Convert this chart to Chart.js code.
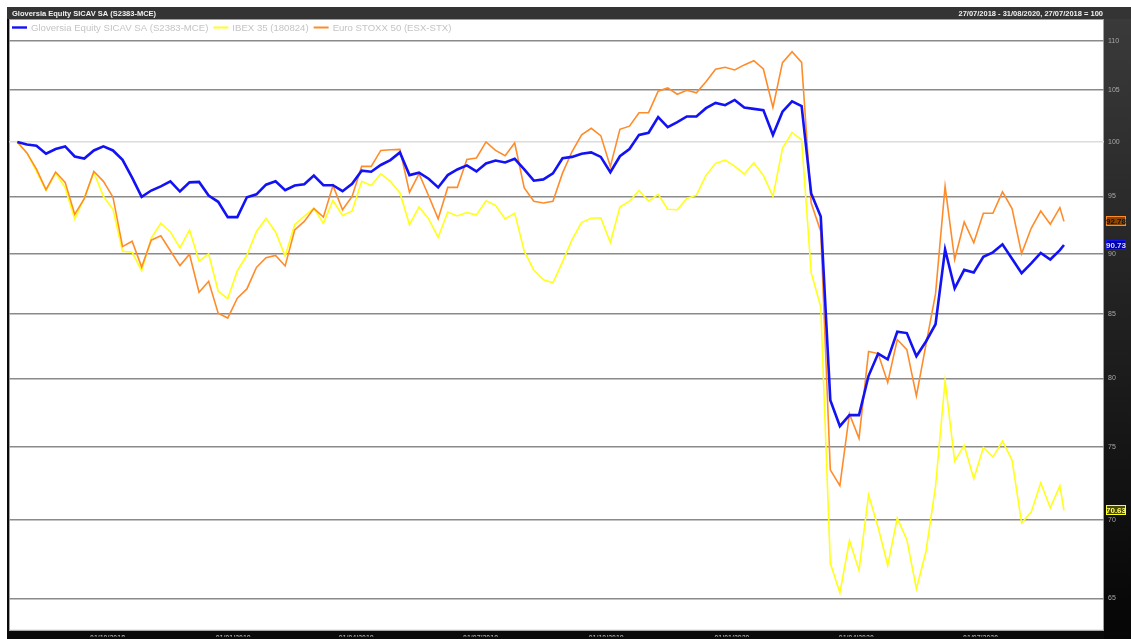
<!DOCTYPE html>
<html lang="es">
<head>
<meta charset="UTF-8">
<title>Gloversia Equity SICAV SA</title>
<style>
  html, body { margin: 0; padding: 0; background: #fff; }
</style>
</head>
<body>
<canvas id="myChart" width="1131" height="639"></canvas>

<script src="https://cdn.jsdelivr.net/npm/chart.js"></script>
<script>
// weekly closes from 27/07/2018 (Fridays) plus the final 31/08/2020 close, base 100
const startDate = '2018-07-27';
const endDate = '2020-08-31';
const weeks = 110;

const names = ['Gloversia Equity SICAV SA (S2383-MCE)', 'IBEX 35 (180824)', 'Euro STOXX 50 (ESX-STX)'];
const colors = ['#1212f5', '#ffff1a', '#ff8c2a'];

const gloversia = [
  100, 99.76, 99.64, 98.9, 99.33, 99.58, 98.64, 98.45, 99.2, 99.58,
  99.2, 98.33, 96.69, 94.96, 95.52, 95.9, 96.35, 95.43, 96.26, 96.3,
  95.07, 94.51, 93.15, 93.15, 94.92, 95.18, 96.05, 96.35, 95.55, 95.97,
  96.09, 96.87, 96.0, 96.0, 95.46, 96.13, 97.33, 97.23, 97.85, 98.3,
  99.02, 96.92, 97.14, 96.59, 95.8, 96.92, 97.44, 97.81, 97.26, 97.99,
  98.26, 98.08, 98.42, 97.44, 96.41, 96.53, 97.08, 98.47, 98.6, 98.9,
  99.02, 98.6, 97.19, 98.66, 99.33, 100.67, 100.87, 102.37, 101.41, 101.89,
  102.43, 102.43, 103.24, 103.75, 103.53, 104.04, 103.3, 103.17, 103.05, 100.65,
  102.9, 103.9, 103.45, 95.25, 93.2, 78.38, 76.48, 77.28, 77.28, 80.2,
  81.9, 81.45, 83.6, 83.5, 81.7, 82.84, 84.2, 90.35, 87.1, 88.63,
  88.42, 89.73, 90.11, 90.79, 89.57, 88.36, 89.18, 90.06, 89.5, 90.3,
  90.73
];

const ibex = [
  100, 98.97, 97.26, 95.52, 97.1, 95.78, 92.99, 94.86, 97.17, 95.0,
  93.84, 90.2, 90.11, 88.56, 91.33, 92.62, 91.86, 90.48, 92.03, 89.37,
  89.98, 86.86, 86.26, 88.56, 89.86, 91.9, 93.04, 91.86, 89.8, 92.48,
  93.25, 93.92, 92.62, 94.62, 93.3, 93.69, 96.35, 95.97, 97.04, 96.35,
  95.3, 92.5, 94.05, 93.0, 91.4, 93.6, 93.25, 93.55, 93.35, 94.6,
  94.2, 93.0, 93.5, 90.2, 88.6, 87.8, 87.55, 89.3, 91.2, 92.7,
  93.05, 93.1, 90.95, 94.05, 94.56, 95.52, 94.56, 95.18, 93.85, 93.8,
  94.8, 95.1, 96.9, 98.0, 98.3, 97.75, 97.0, 98.05, 96.9, 95.0,
  99.4, 100.9, 100.2, 88.4, 85.6, 67.2, 65.36, 68.65, 66.75, 71.68,
  69.5, 67.07, 70.12, 68.71, 65.6, 67.95, 72.25, 79.83, 74.0, 75.1,
  72.78, 74.96, 74.28, 75.4, 74.07, 69.8, 70.52, 72.5, 70.8, 72.3,
  70.63
];

const stoxx = [
  100, 98.97, 97.47, 95.6, 97.2, 96.26, 93.4, 94.8, 97.26, 96.35,
  94.92, 90.6, 91.06, 88.86, 91.15, 91.53, 90.24, 88.99, 89.94, 86.78,
  87.68, 85.08, 84.69, 86.29, 87.05, 88.83, 89.65, 89.84, 88.96, 92.03,
  92.78, 93.92, 93.15, 95.97, 93.8, 94.99, 97.72, 97.72, 99.2, 99.26,
  99.3, 95.35, 97.05, 95.05, 93.0, 95.8, 95.8, 98.35, 98.5, 100.0,
  99.2, 98.7, 99.9, 95.75, 94.56, 94.4, 94.56, 97.1, 99.1, 100.67,
  101.3, 100.6, 97.7, 101.2, 101.5, 102.8, 102.8, 104.9, 105.23, 104.6,
  105.0, 104.75, 105.84, 107.1, 107.3, 107.03, 107.54, 107.97, 107.13, 103.3,
  107.77, 108.88, 107.8, 94.4, 91.9, 73.39, 72.3, 77.36, 75.6, 82.06,
  81.9, 79.7, 82.99, 82.2, 78.7, 82.6, 86.64, 95.9, 89.5, 92.73,
  90.93, 93.49, 93.49, 95.4, 93.9, 90.0, 92.18, 93.69, 92.53, 93.99,
  92.78
];

const yTicks = [65, 70, 75, 80, 85, 90, 95, 100, 105, 110];
const xTickDates = ['2018-10-01', '2019-01-01', '2019-04-01', '2019-07-01',
                    '2019-10-01', '2020-01-01', '2020-04-01', '2020-07-01'];

const DAY = 86400000;
const t0 = Date.parse(startDate);
const dayOf = d => Math.round((Date.parse(d) - t0) / DAY);

// x positions in days since the start
const days = [];
for (let i = 0; i < weeks; i++) days.push(i * 7);
days.push(dayOf(endDate));

const fmt = day => {
  const d = new Date(t0 + day * DAY);
  const dd = String(d.getUTCDate()).padStart(2, '0');
  const mm = String(d.getUTCMonth() + 1).padStart(2, '0');
  return dd + '/' + mm + '/' + d.getUTCFullYear();
};

const toPoints = arr => arr.map((v, i) => ({ x: days[i], y: v }));

const font = '"Liberation Sans", Arial, sans-serif';

const framePlugin = {
  id: 'frame',
  beforeDraw(chart) {
    const { ctx, chartArea: a, width, height } = chart;
    ctx.save();
    ctx.fillStyle = '#fff';
    ctx.fillRect(0, 0, width, height);
    ctx.fillStyle = '#0a0a0a';
    ctx.fillRect(7, 7, width - 7, height - 7);
    const g = ctx.createLinearGradient(0, 19, 0, height);
    g.addColorStop(0, '#3a3a3a');
    g.addColorStop(1, '#050505');
    ctx.fillStyle = g;
    ctx.fillRect(a.right, 19, width - a.right, height - 19);
    ctx.fillStyle = '#343434';
    ctx.fillRect(7, 7, width - 7, 12);
    ctx.fillStyle = '#fff';
    ctx.fillRect(a.left, a.top, a.right - a.left, a.bottom - a.top);
    ctx.strokeStyle = '#a0a0a0';
    ctx.lineWidth = 1;
    ctx.strokeRect(a.left + 0.5, a.top + 0.5, a.right - a.left - 1, a.bottom - a.top - 1);

    ctx.font = 'bold 7.5px ' + font;
    ctx.fillStyle = '#f2f2f2';
    ctx.textBaseline = 'middle';
    ctx.textAlign = 'left';
    ctx.fillText(names[0], 12, 13.5);
    ctx.textAlign = 'right';
    ctx.fillText(fmt(0) + ' - ' + fmt(days[days.length - 1]) + ', ' + fmt(0) + ' = 100', a.right - 1, 13.5);
    ctx.restore();
  },
  afterDraw(chart) {
    const { ctx, chartArea: a, scales } = chart;

    // legend row inside the plot, top left
    ctx.save();
    ctx.font = '9.6px ' + font;
    ctx.textAlign = 'left';
    ctx.textBaseline = 'middle';
    let x = a.left + 3;
    const ly = a.top + 8.5;
    chart.data.datasets.forEach((ds, i) => {
      ctx.strokeStyle = colors[i];
      ctx.lineWidth = i === 0 ? 2.4 : 2;
      ctx.beginPath();
      ctx.moveTo(x, ly);
      ctx.lineTo(x + 15, ly);
      ctx.stroke();
      ctx.fillStyle = '#c4c4c4';
      ctx.fillText(ds.label, x + 19, ly + 0.5);
      x += 19 + ctx.measureText(ds.label).width + 5;
    });
    ctx.restore();

    // last value boxes on the right axis
    const fills = ['#0000a8', '#4a4a00', '#8a4500'];
    const texts = ['#d8d8ff', '#ffff70', '#111'];
    ctx.save();
    ctx.font = 'bold 8px ' + font;
    ctx.textAlign = 'center';
    ctx.textBaseline = 'middle';
    chart.data.datasets.forEach((ds, i) => {
      const v = ds.data[ds.data.length - 1].y;
      const y = Math.round(scales.y.getPixelForValue(v));
      ctx.fillStyle = fills[i];
      ctx.fillRect(a.right + 2, y - 5, 20, 10);
      ctx.strokeStyle = colors[i];
      ctx.lineWidth = 1;
      ctx.strokeRect(a.right + 2.5, y - 4.5, 19, 9);
      ctx.fillStyle = texts[i];
      ctx.fillText(v.toFixed(2), a.right + 12, y + 0.5);
    });
    ctx.restore();
  }
};

const ctx = document.getElementById('myChart');

new Chart(ctx, {
  type: 'line',
  data: {
    datasets: [
      { label: names[0], data: toPoints(gloversia), borderColor: colors[0], backgroundColor: colors[0], borderWidth: 2.6, order: 0 },
      { label: names[1], data: toPoints(ibex), borderColor: colors[1], backgroundColor: colors[1], borderWidth: 1.6, order: 2 },
      { label: names[2], data: toPoints(stoxx), borderColor: colors[2], backgroundColor: colors[2], borderWidth: 1.6, order: 1 }
    ]
  },
  options: {
    responsive: false,
    animation: false,
    layout: { padding: { left: 9, top: 19, right: 0, bottom: 0 } },
    elements: { point: { radius: 0 }, line: { tension: 0 } },
    plugins: {
      tooltip: { enabled: false },
      legend: { display: false }
    },
    scales: {
      x: {
        type: 'linear',
        min: -6.1,
        max: 795.3,
        afterFit: s => { s.height = 6; },
        afterBuildTicks: s => { s.ticks = xTickDates.map(d => ({ value: dayOf(d) })); },
        grid: { display: false, drawTicks: false },
        border: { display: false },
        ticks: {
          autoSkip: false,
          maxRotation: 0,
          padding: 3,
          color: '#a8a8a8',
          font: { family: font, size: 7, weight: 'bold' },
          callback: v => fmt(v)
        }
      },
      y: {
        type: 'logarithmic',
        position: 'right',
        min: 63.05,
        max: 112.3,
        afterFit: s => { s.width = 27; },
        afterBuildTicks: s => { s.ticks = yTicks.map(v => ({ value: v })); },
        grid: {
          drawTicks: false,
          color: c => (c.tick && c.tick.value === 100 ? '#dcdcdc' : '#8a8a8a'),
          lineWidth: 1.5
        },
        border: { display: false },
        ticks: {
          padding: 4,
          align: 'center',
          color: '#a8a8a8',
          font: { family: font, size: 7 },
          callback: v => String(v)
        }
      }
    }
  },
  plugins: [framePlugin]
});
</script>
</body>
</html>
